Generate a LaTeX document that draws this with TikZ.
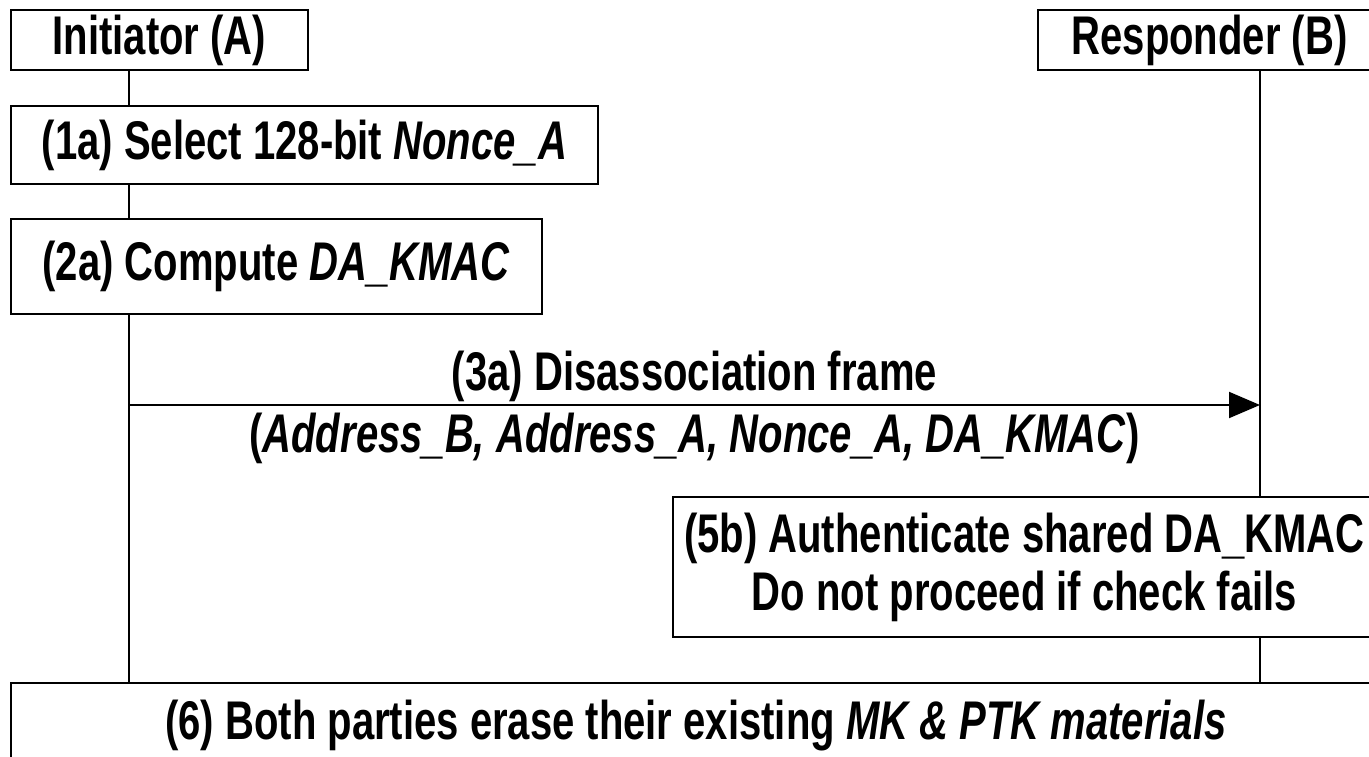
\documentclass[tikz,border=0pt]{standalone}
\usepackage{fontspec}
\setmainfont{Liberation Sans}[FakeStretch=0.735]
\usetikzlibrary{arrows.meta,positioning}

\begin{document}
\begin{tikzpicture}[
  x=0.2mm, y=-0.2mm,
  box/.style={draw, line width=1.1pt, anchor=north west, align=center, inner sep=0pt, font=\fontsize{31}{33}\selectfont\bfseries},
  life/.style={line width=1.1pt},
  arr/.style={line width=1.1pt, -{Triangle[length=6.2mm, width=5.2mm]}},
  lbl/.style={font=\fontsize{31}{33}\selectfont\bfseries}
]
\useasboundingbox (0,0) rectangle (1369,756);
% party headers
\node[box, minimum width=59.4mm, minimum height=12mm] (initA) at (10,9) {Initiator (A)};
\node[box, minimum width=68.6mm, minimum height=12mm] (respB) at (1037,9) {Responder (B)};
% steps
\node[box, minimum width=117.4mm, minimum height=15.6mm] (sel) at (10,105) {(1a) Select 128-bit \textit{Nonce\_A}};
\node[box, minimum width=106.2mm, minimum height=19mm] (comp) at (10,218) {(2a) Compute \textit{DA\_KMAC}};
\node[box, minimum width=140.6mm, minimum height=28mm] (auth) at (672,496) {(5b) Authenticate shared DA\_KMAC\\Do not proceed if check fails};
\node[box, minimum width=274mm, minimum height=17mm] (erase) at (10,682) {(6) Both parties erase their existing \textit{MK \& PTK materials}};
% lifelines
\coordinate (la) at (129,0);
\coordinate (lb) at (1260,0);
\draw[life] (la |- initA.south) -- (la |- sel.north);
\draw[life] (la |- sel.south) -- (la |- comp.north);
\draw[life] (la |- comp.south) -- (la |- erase.north);
\draw[life] (lb |- respB.south) -- (lb |- auth.north);
\draw[life] (lb |- auth.south) -- (lb |- erase.north);
% message
\coordinate (m3a) at (129,405);
\coordinate (m3b) at (1260,405);
\draw[arr] (m3a) -- node[lbl, above, inner sep=0.5mm] (m3top) {(3a) Disassociation frame}
  node[lbl, below, inner sep=1.5mm] (m3bot) {(\textit{Address\_B, Address\_A, Nonce\_A, DA\_KMAC})} (m3b);
\end{tikzpicture}
\end{document}
